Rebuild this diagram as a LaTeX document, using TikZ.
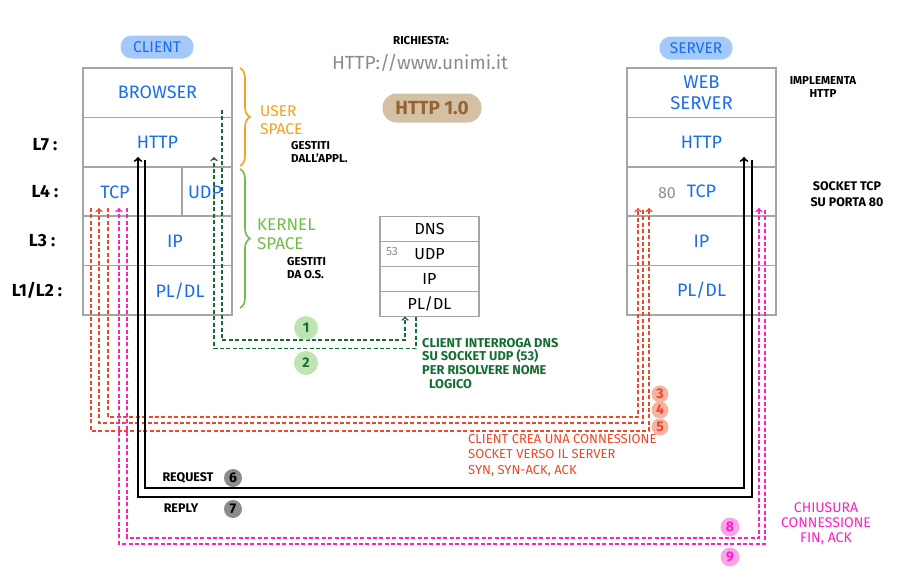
\documentclass[tikz,border=0pt]{standalone}
\usepackage{fontspec}
\setmainfont{Fira Sans}
\usepackage{tikz}
\usetikzlibrary{arrows,positioning,decorations.pathreplacing}
\definecolor{blu}{RGB}{25,110,235}
\definecolor{pillblu}{RGB}{165,200,250}
\definecolor{grigio}{RGB}{165,165,165}
\definecolor{grigioscuro}{RGB}{140,140,140}
\definecolor{arancio}{RGB}{245,160,30}
\definecolor{verdechiaro}{RGB}{110,190,70}
\definecolor{verdepallido}{RGB}{190,228,180}
\definecolor{verdescuro}{RGB}{20,110,50}
\definecolor{rosso}{RGB}{240,70,40}
\definecolor{rosachiaro}{RGB}{248,178,162}
\definecolor{magenta}{RGB}{255,30,200}
\definecolor{rosa}{RGB}{250,165,232}
\definecolor{marrone}{RGB}{212,192,165}
\definecolor{marronescuro}{RGB}{150,100,50}
\begin{document}
\begin{tikzpicture}[x=1pt,y=-1pt,
        strato/.style={draw=grigio,line width=1.6pt,minimum width=149pt,minimum height=49.4pt,
          outer sep=0pt,inner sep=0pt,text=blu,font=\fontsize{18}{20}\selectfont},
        dnsstrato/.style={draw=grigio,line width=1.6pt,minimum width=99pt,minimum height=25pt,
          outer sep=0pt,inner sep=0pt,font=\fontsize{16}{18}\selectfont},
        pillola/.style={fill=pillblu,rounded corners=11pt,minimum width=73pt,minimum height=23pt,
          inner sep=0pt,text=blu,font=\fontsize{15.5}{17}\selectfont},
        blutesto/.style={text=blu,font=\fontsize{18}{20}\selectfont,inner sep=0pt},
        livello/.style={font=\bfseries\fontsize{17.5}{19}\selectfont},
        nota/.style={font=\bfseries\fontsize{11.5}{13}\selectfont,align=left,inner sep=0pt},
        numero/.style={circle,inner sep=0pt,minimum size=19pt,font=\bfseries\fontsize{14}{15}\selectfont},
        flusso/.style={line width=1.6pt,dash pattern=on 4pt off 2.4pt,->},
        graffa/.style={line width=1.6pt,decorate,decoration={brace,amplitude=10pt}}]
      \useasboundingbox (0,0) rectangle (901,581);
      % client
      \node [pillola] (client) at (157,47) {CLIENT};
      \node [strato] (cbrowser) at (157.5,92.7) {BROWSER};
      \node [strato,below=0pt of cbrowser] (chttp) {HTTP};
      \node [strato,below=0pt of chttp] (cl4) {};
      \node [strato,below=0pt of cl4] (cip) {};
      \node [strato,below=0pt of cip] (cpl) {};
      \draw [grigio,line width=1.6pt] ([xshift=24.5pt]cl4.north) -- ([xshift=24.5pt]cl4.south);
      \node [blutesto] (ctcp) at (115,192) {TCP};
      \node [blutesto] (cudp) at (205,192) {UDP};
      \node [blutesto] (ciptxt) at (175,241) {IP};
      \node [blutesto] (cpltxt) at (180,291) {PL/DL};
      \node [livello] (l7) at (45,145) {L7 :};
      \node [livello] (l4) at (45,192) {L4 :};
      \node [livello] (l3) at (42,241) {L3 :};
      \node [livello] (l12) at (37,290) {L1/L2 :};
      % spazi
      \draw [graffa,arancio] (240,68) -- (240,166);
      \draw [graffa,verdechiaro] (240,169) -- (240,308);
      \node [anchor=west,align=left,inner sep=0pt,text=arancio,font=\fontsize{15.5}{18}\selectfont] (user) at (260,120) {USER\\SPACE};
      \node [nota,anchor=west] (gestapp) at (291,152) {GESTITI\\DALL'APPL.};
      \node [anchor=west,align=left,inner sep=0pt,text=verdechiaro,font=\fontsize{17}{18.5}\selectfont] (kernel) at (257,234) {KERNEL\\SPACE};
      \node [nota,anchor=west] (gestos) at (287,268) {GESTITI\\DA O.S.};
      % richiesta
      \node [font=\bfseries\fontsize{11.5}{13}\selectfont] (richiesta) at (421,41) {RICHIESTA:};
      \node [text=grigioscuro,font=\fontsize{19}{21}\selectfont] (url) at (420,63) {HTTP://www.unimi.it};
      \node [fill=marrone,rounded corners=14pt,minimum width=99pt,minimum height=29pt,inner sep=0pt,
        text=marronescuro,font=\bfseries\fontsize{19}{21}\selectfont] (versione) at (432,108) {HTTP 1.0};
      % dns
      \node [dnsstrato] (dns) at (429.5,229) {DNS};
      \node [dnsstrato,below=0pt of dns] (dudp) {UDP};
      \node [dnsstrato,below=0pt of dudp] (dip) {IP};
      \node [dnsstrato,below=0pt of dip] (dpl) {PL/DL};
      \node [text=grigioscuro,font=\fontsize{12}{13}\selectfont] (porta53) at (392,251) {53};
      % server
      \node [pillola] (server) at (696,48) {SERVER};
      \node [strato,align=center,font=\fontsize{18.5}{20.5}\selectfont] (sweb) at (701.5,92.7) {WEB\\SERVER};
      \node [strato,below=0pt of sweb] (shttp) {HTTP};
      \node [strato,below=0pt of shttp] (stcp) {TCP};
      \node [strato,below=0pt of stcp] (sip) {IP};
      \node [strato,below=0pt of sip] (spl) {PL/DL};
      \node [text=grigioscuro,font=\fontsize{16}{18}\selectfont] (porta80) at (667,193) {80};
      \node [nota,align=center,font=\bfseries\fontsize{11.5}{13}\selectfont] (implementa) at (823,87) {IMPLEMENTA\\HTTP};
      \node [nota,align=center,font=\bfseries\fontsize{12.5}{16}\selectfont] (sockettcp) at (847,194) {SOCKET TCP\\SU PORTA 80};
      % estremi dei flussi
      \coordinate (g1a) at (222,110);
      \coordinate (g2b) at (214,157);
      \coordinate (r3a) at (108,208);
      \coordinate (r3b) at (638,208);
      \coordinate (r4a) at (643,210);
      \coordinate (r4b) at (99,208);
      \coordinate (r5a) at (91,208);
      \coordinate (r5b) at (649,208);
      \coordinate (k6a) at (145,160);
      \coordinate (k6b) at (744,157);
      \coordinate (k7a) at (752,160);
      \coordinate (k7b) at (138,157);
      \coordinate (m8a) at (127,208);
      \coordinate (m8b) at (759,208);
      \coordinate (m9a) at (765,210);
      \coordinate (m9b) at (119,208);
      % dns query
      \draw [flusso,verdescuro] (g1a) -- ++(0,230) -| ([xshift=-24.5pt]dpl.south);
      \draw [flusso,verdescuro] ([xshift=-13.5pt]dpl.south) -- ++(0,32) -| (g2b);
      % handshake
      \draw [flusso,rosso] (r3a) -- ++(0,209) -| (r3b);
      \draw [flusso,rosso] (r4a) -- ++(0,213) -| (r4b);
      \draw [flusso,rosso] (r5a) -- ++(0,223) -| (r5b);
      % request / reply
      \draw [line width=2pt,->] (k6a) -- ++(0,328) -| (k6b);
      \draw [line width=2pt,->] (k7a) -- ++(0,337) -| (k7b);
      % chiusura
      \draw [flusso,magenta] (m8a) -- ++(0,330) -| (m8b);
      \draw [flusso,magenta] (m9a) -- ++(0,334) -| (m9b);
      % numeri
      \node [numero,minimum size=24pt,fill=verdepallido,text=verdescuro] (n1) at (306,328) {1};
      \node [numero,minimum size=24pt,fill=verdepallido,text=verdescuro] (n2) at (306,363) {2};
      \node [numero,minimum size=17pt,fill=rosachiaro,text=rosso] (n3) at (660,394) {3};
      \node [numero,minimum size=17pt,fill=rosachiaro,text=rosso] (n4) at (660,410) {4};
      \node [numero,minimum size=17pt,fill=rosachiaro,text=rosso] (n5) at (660,427) {5};
      \node [numero,minimum size=18pt,fill=grigioscuro] (n6) at (233,478) {6};
      \node [numero,minimum size=18pt,fill=grigioscuro] (n7) at (233,509) {7};
      \node [numero,fill=rosa,text=magenta] (n8) at (730,527) {8};
      \node [numero,fill=rosa,text=magenta] (n9) at (730,557) {9};
      % didascalie
      \node [font=\bfseries\fontsize{12.5}{14}\selectfont] (request) at (188,478) {REQUEST};
      \node [font=\bfseries\fontsize{12.5}{14}\selectfont] (reply) at (181,508) {REPLY};
      \node [anchor=north west,align=left,inner sep=0pt,text=verdescuro,
        font=\bfseries\fontsize{12.8}{13.7}\selectfont] (dnsnota) at (422,338)
        {CLIENT INTERROGA DNS\\SU SOCKET UDP (53)\\PER RISOLVERE NOME\\\hspace{7pt}LOGICO};
      \node [anchor=north west,align=left,inner sep=0pt,text=rosso,
        font=\fontsize{13}{15.5}\selectfont] (tcpnota) at (468,434)
        {CLIENT CREA UNA CONNESSIONE\\SOCKET VERSO IL SERVER\\SYN, SYN-ACK, ACK};
      \node [align=center,inner sep=0pt,text=magenta,font=\fontsize{14}{15}\selectfont] (finnota) at (826,524)
        {CHIUSURA\\CONNESSIONE\\FIN, ACK};
    \end{tikzpicture}
\end{document}
